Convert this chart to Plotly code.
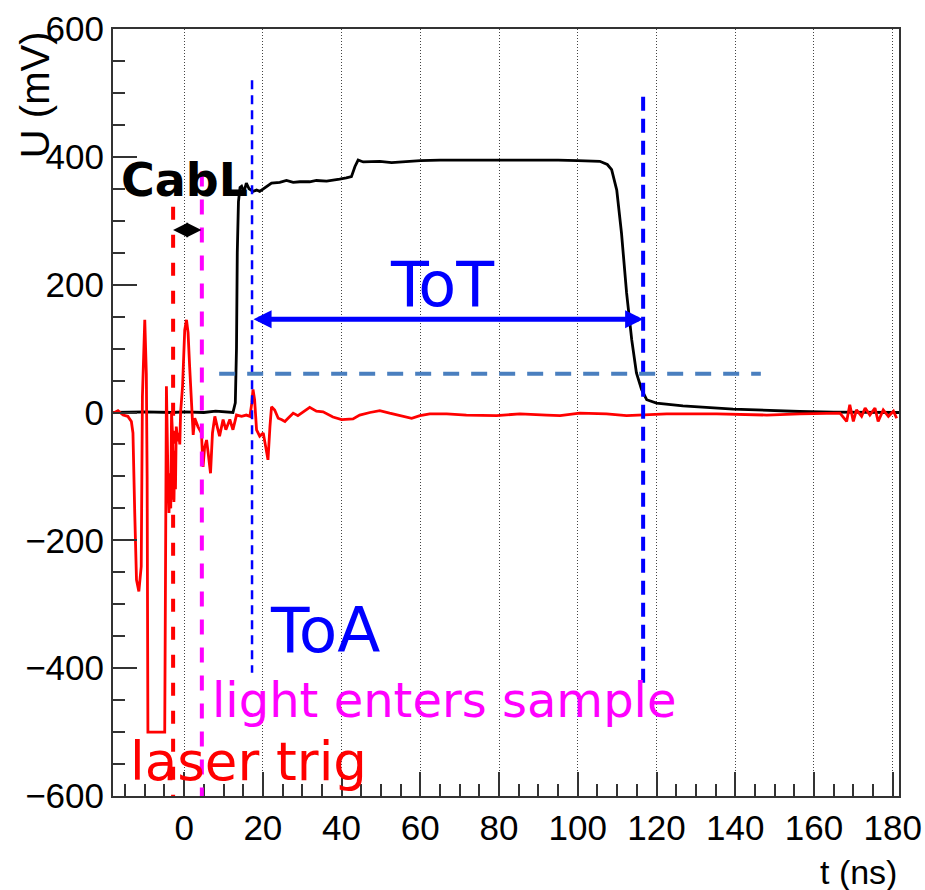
import plotly.graph_objects as go

# ---------------- data ----------------
t_black = [-18.0, -10.0, -3.0, 0.0, 5.0, 8.0, 12.4, 13.0, 13.3, 13.5, 13.8, 14.2, 14.6, 15.2,
           15.8, 16.5, 17.5, 18.4, 19.2, 20.9, 22.2, 24.3, 26.0, 27.7, 29.4, 31.9, 33.6, 36.2,
           37.8, 39.5, 41.2, 42.5, 43.4, 44.2, 45.5, 47.2, 49.7, 52.7, 55.0, 60.0, 65.0, 70.0,
           75.0, 80.0, 85.0, 90.0, 95.0, 100.0, 104.0, 105.6, 107.5, 108.6, 109.9, 111.1, 112.4,
           113.7, 114.9, 116.2, 117.5, 120.0, 126.7, 139.5, 156.4, 165.0, 181.6]
u_black = [0, 1, 0, 1, 0, 2, 0, 15, 100, 250, 330, 352, 354, 345,
           359, 350, 346, 348, 346, 354, 359, 360, 363, 360, 361, 361, 363, 362,
           364, 365, 367, 369, 385, 395, 392, 392, 393, 391, 392, 394, 395, 395,
           396, 395, 395, 395, 395, 394, 394, 393, 388, 380, 348, 281, 187,
           114, 62, 36, 20, 14.7, 10.5, 5.3, 1.6, 0.5, 0]

t_red = [-18.0, -16.8, -15.5, -14.3, -13.4, -13.0, -12.55, -12.1, -11.5, -10.9, -10.75, -10.6,
         -10.0, -9.6, -9.4, -9.2, -4.93, -4.9, -4.5, -4.1, -3.85, -3.6, -3.4, -3.2, -2.9, -2.6,
         -2.4, -2.2, -2.0, -1.6, -1.4, -1.1, -0.9, -0.4, 0.15, 0.6, 1.0, 1.4, 1.9, 2.3, 2.7,
         3.5, 4.4, 4.8, 5.2, 5.7, 6.1, 6.7, 7.2, 7.8, 8.4, 9.0, 9.9, 10.6, 11.6, 12.4, 13.3,
         14.6, 15.8, 16.7, 17.2, 17.5, 17.9, 18.4, 19.2, 20.1, 20.7, 21.3, 21.8, 22.2, 23.0,
         23.9, 24.7, 25.6, 26.4, 27.7, 28.9, 30.6, 31.9, 33.6, 35.3, 37.8, 40.0, 42.9, 44.6,
         47.2, 49.7, 52.2, 54.8, 57.8, 59.9, 62.4, 66.7, 71.7, 79.4, 85.3, 92.1, 95.5, 100.5,
         107.3, 112.4, 122.6, 135.3, 148.0, 156.4, 166.6, 168.3, 169.1, 170.0, 170.8, 172.1,
         173.0, 174.2, 175.5, 176.3, 177.6, 178.9, 180.2, 181.0]
u_red = [-1, 3, -4, -6, -14, -32, -157, -262, -280, -241, -110, 25,
         145, 60, -100, -500, -500, -439, 41, -105, -157, -95, -150, 0, -40, -140,
         -60, -120, -22, -45, -32, -50, 0, 41, 129, 145, 125, 72, 9, -35, -9,
         -22, -32, -85, -55, -43, -63, -95, -32, -6, -22, -37, -11, -27, -11, -27, -4,
         -6, -4, -6, 15, 36, 20, -27, -37, -32, -53, -74, -22, 9, 4,
         -9, -11, -14, -9, -1, -5, 2, 8, 2, 1, -7, -11, -10, -4,
         0, 3, -1, -5, -9, -5, -2, -2, -4, -5, -2, -4, -5, -1,
         -2, -5, -2, -2, -4, -2, -1, -14, 12, -14, 4, -6,
         7, -4, 7, -14, 4, -6, 2, -9]

x_tick_vals = [0, 20, 40, 60, 80, 100, 120, 140, 160, 180]
y_tick_vals = [-600, -400, -200, 0, 200, 400, 600]
x_range = [-18.07, 181.6]
y_range = [-600, 600]

# annotation markers (times in ns, levels in mV)
t_laser = -2.8
t_light = 4.5
t_toa = 17.25
t_tot_end = 116.6
u_threshold = 60.6
t_threshold = [8.9, 146.5]
u_tot_arrow = 146
u_cabl_arrow = 285.6
t_cabl = [-3.2, 4.4]

labels = ["CabL", "ToT", "ToA", "light enters sample", "laser trig"]

TICKFONT = "Liberation Sans Narrow, Liberation Sans, Arial, sans-serif"
TXTFONT = "DejaVu Sans, Verdana, sans-serif"

fig = go.Figure()
fig.add_trace(go.Scatter(x=t_black, y=u_black, mode="lines",
                         line=dict(color="black", width=2.8), showlegend=False))
fig.add_trace(go.Scatter(x=t_red, y=u_red, mode="lines",
                         line=dict(color="#ff0000", width=2.8), showlegend=False))

# vertical dashed lines
vlines = [
    (t_laser, 322, -600, "#ff0000", 4, "13px,15px"),
    (t_light, 377, -600, "#ff00ff", 4, "15px,13px"),
    (t_toa, 520, -407, "#0000ff", 2.5, "9px,6px"),
    (t_tot_end, 494, -434, "#0000ff", 4, "14px,8px"),
]
for t, y0, y1, col, w, dash in vlines:
    fig.add_shape(type="line", x0=t, x1=t, y0=y0, y1=y1, xref="x", yref="y",
                  line=dict(color=col, width=w, dash=dash), layer="above")

fig.add_shape(type="line", x0=t_threshold[0], x1=t_threshold[1], y0=u_threshold, y1=u_threshold,
              xref="x", yref="y", line=dict(color="#4a7fbf", width=4, dash="16px,12px"), layer="above")

# arrows
fig.add_annotation(x=t_tot_end, y=u_tot_arrow, ax=t_toa, ay=u_tot_arrow, xref="x", yref="y",
                   axref="x", ayref="y", text="", showarrow=True, arrowside="end+start",
                   arrowhead=2, startarrowhead=2, arrowsize=0.72, startarrowsize=0.72,
                   arrowwidth=5, arrowcolor="#0000ff", standoff=0, startstandoff=0)
fig.add_annotation(x=t_cabl[1], y=u_cabl_arrow, ax=t_cabl[0], ay=u_cabl_arrow, xref="x", yref="y",
                   axref="x", ayref="y", text="", showarrow=True, arrowside="end+start",
                   arrowhead=2, startarrowhead=2, arrowsize=1.5, startarrowsize=1.5,
                   arrowwidth=2, arrowcolor="black", standoff=0, startstandoff=0)

# text labels
text_specs = [
    (labels[0], -16.6, 363, "black", 46, True),
    (labels[1], 51.9, 201, "#0000ff", 62, False),
    (labels[2], 21.2, -341.5, "#0000ff", 63, False),
    (labels[3], 6.6, -450, "#ff00ff", 48, False),
    (labels[4], -14.3, -546.6, "#ff0000", 53, False),
]
for txt, tx, ty, col, size, bold in text_specs:
    fig.add_annotation(x=tx, y=ty, xref="x", yref="y", text=("<b>%s</b>" % txt) if bold else txt,
                       showarrow=False, xanchor="left", yanchor="middle",
                       font=dict(family=TXTFONT, size=size, color=col))

# axis titles
fig.add_annotation(x=1.0, y=-0.0991, xref="paper", yref="paper", text="t (ns)", showarrow=False,
                   xanchor="right", yanchor="middle", font=dict(family=TICKFONT, size=34, color="black"))
fig.add_annotation(x=-0.0997, y=1.0, xref="paper", yref="paper", text="U (mV)", showarrow=False,
                   textangle=-90, xanchor="center", yanchor="top",
                   font=dict(family="Liberation Sans, Arial, sans-serif", size=40, color="black"))

fig.update_xaxes(range=x_range, tickmode="array", tickvals=x_tick_vals, automargin=False,
                 ticks="inside", ticklen=24, tickwidth=2, tickcolor="#333",
                 minor=dict(ticks="inside", ticklen=12, tickwidth=2, tickcolor="#333", dtick=5, tick0=0,
                            showgrid=False),
                 showline=True, linewidth=2, linecolor="#333", mirror=True,
                 showgrid=True, gridcolor="#444", gridwidth=1, griddash="1px,2px",
                 zeroline=False, tickfont=dict(family=TICKFONT, size=35, color="black"))
fig.update_yaxes(range=y_range, tickmode="array", tickvals=y_tick_vals, automargin=False,
                 ticks="inside", ticklen=24, tickwidth=2, tickcolor="#333",
                 minor=dict(ticks="inside", ticklen=12, tickwidth=2, tickcolor="#333", dtick=50, tick0=0,
                            showgrid=False),
                 showline=True, linewidth=2, linecolor="#333", mirror=True,
                 showgrid=False, zeroline=False,
                 tickfont=dict(family=TICKFONT, size=35, color="black"))

fig.update_layout(width=925, height=890, margin=dict(l=113, r=26, t=29, b=94),
                  paper_bgcolor="white", plot_bgcolor="white", showlegend=False)

# remove the default page margin so the figure sits at the window's top-left corner
fig.write_html("out.html", config={"displayModeBar": False},
               post_script="document.body.style.margin='0';document.body.style.overflow='hidden';")
